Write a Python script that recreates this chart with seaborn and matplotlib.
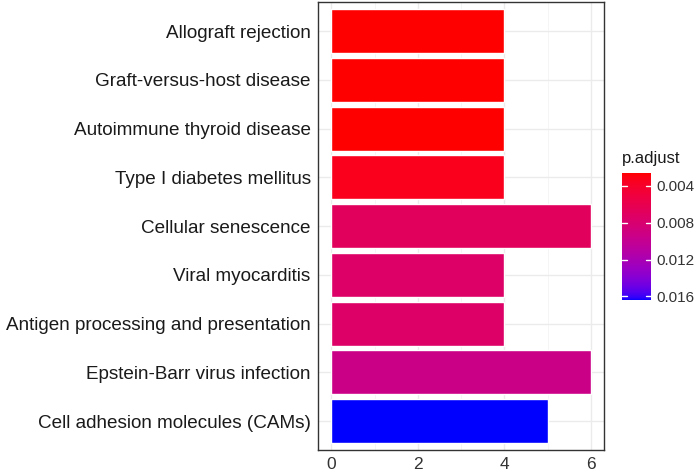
import numpy as np
import pandas as pd
import matplotlib
matplotlib.use("Agg")
import matplotlib.pyplot as plt
import seaborn as sns
from matplotlib.colors import ListedColormap, Normalize
from matplotlib.cm import ScalarMappable

categories = ["Allograft rejection", "Graft-versus-host disease", "Autoimmune thyroid disease",
              "Type I diabetes mellitus", "Cellular senescence", "Viral myocarditis",
              "Antigen processing and presentation", "Epstein-Barr virus infection",
              "Cell adhesion molecules (CAMs)"]
counts = [4, 4, 4, 4, 6, 4, 4, 6, 5]
p_adjust = [0.0026, 0.0026, 0.0026, 0.0034, 0.0069, 0.0075, 0.0075, 0.0094, 0.0164]
cbar_ticks = [0.004, 0.008, 0.012, 0.016]


def srgb_to_lab(rgb):
    rgb = np.asarray(rgb, float)
    lin = np.where(rgb <= 0.04045, rgb / 12.92, ((rgb + 0.055) / 1.055) ** 2.4)
    M = np.array([[0.4124, 0.3576, 0.1805], [0.2126, 0.7152, 0.0722], [0.0193, 0.1192, 0.9505]])
    xyz = lin @ M.T / np.array([0.95047, 1.0, 1.08883])
    f = np.where(xyz > 0.008856, np.cbrt(xyz), 7.787 * xyz + 16 / 116)
    return np.stack([116 * f[..., 1] - 16, 500 * (f[..., 0] - f[..., 1]), 200 * (f[..., 1] - f[..., 2])], -1)


def lab_to_srgb(lab):
    L, a, b = lab[..., 0], lab[..., 1], lab[..., 2]
    fy = (L + 16) / 116
    fx = fy + a / 500
    fz = fy - b / 200
    f = np.stack([fx, fy, fz], -1)
    xyz = np.where(f ** 3 > 0.008856, f ** 3, (f - 16 / 116) / 7.787) * np.array([0.95047, 1.0, 1.08883])
    Minv = np.linalg.inv(np.array([[0.4124, 0.3576, 0.1805], [0.2126, 0.7152, 0.0722], [0.0193, 0.1192, 0.9505]]))
    lin = xyz @ Minv.T
    lin = np.clip(lin, 0, 1)
    rgb = np.where(lin <= 0.0031308, 12.92 * lin, 1.055 * lin ** (1 / 2.4) - 0.055)
    return np.clip(rgb, 0, 1)


t = np.linspace(0, 1, 256)[:, None]
lab_r = srgb_to_lab([1, 0, 0])
lab_b = srgb_to_lab([0, 0, 1])
cmap = ListedColormap(lab_to_srgb(lab_r * (1 - t) + lab_b * t))
vmin, vmax = min(p_adjust), max(p_adjust)
norm = Normalize(vmin=vmin, vmax=vmax)

df = pd.DataFrame({"Description": categories, "Count": counts, "p.adjust": p_adjust})
palette = [cmap(norm(v)) for v in p_adjust]

sns.set_style("white")
plt.rcParams["font.family"] = ["Liberation Sans", "DejaVu Sans"]

fig = plt.figure(figsize=(6.98, 4.74), dpi=100)
ax = fig.add_axes([0.456, 0.050, 0.409, 0.946])

sns.barplot(data=df, x="Count", y="Description", hue="Description", palette=palette,
            order=categories, legend=False, width=0.9, edgecolor="white", linewidth=1.0,
            saturation=1, ax=ax, zorder=3)

ax.set_xlim(-0.3, 6.3)
ax.set_ylim(len(categories) - 0.4, -0.6)
ax.set_xticks([0, 2, 4, 6])
ax.set_xticks([1, 3, 5], minor=True)
ax.grid(True, which="major", color="#EBEBEB", linewidth=1.0, zorder=0)
ax.grid(True, which="minor", axis="x", color="#F4F4F4", linewidth=0.6, zorder=0)
ax.set_axisbelow(True)
ax.set_xlabel("")
ax.set_ylabel("")
for s in ax.spines.values():
    s.set_color("#333333")
    s.set_linewidth(1.0)
ax.tick_params(axis="both", which="major", length=3.5, width=0.9, color="#333333",
               labelsize=13.6, labelcolor="#1A1A1A", pad=2)
ax.tick_params(axis="x", which="minor", length=0)
ax.tick_params(axis="x", labelsize=12.5, labelcolor="#333333", pad=1)

cax = fig.add_axes([622 / 698, 1 - 300 / 474, 29 / 698, 127 / 474])
sm = ScalarMappable(norm=norm, cmap=cmap)
cb = fig.colorbar(sm, cax=cax, ticks=cbar_ticks)
cb.outline.set_visible(False)
cax.invert_yaxis()
cax.tick_params(length=0, labelsize=11, labelcolor="#333333", pad=4)
for v in cbar_ticks:
    y = v
    cax.plot([0, 0.18], [y, y], color="white", lw=1.0, transform=cax.get_yaxis_transform())
    cax.plot([0.82, 1.0], [y, y], color="white", lw=1.0, transform=cax.get_yaxis_transform())
cax.set_title("p.adjust", loc="left", fontsize=12, color="#1A1A1A", pad=7)

fig.savefig("out.png", dpi=100)
